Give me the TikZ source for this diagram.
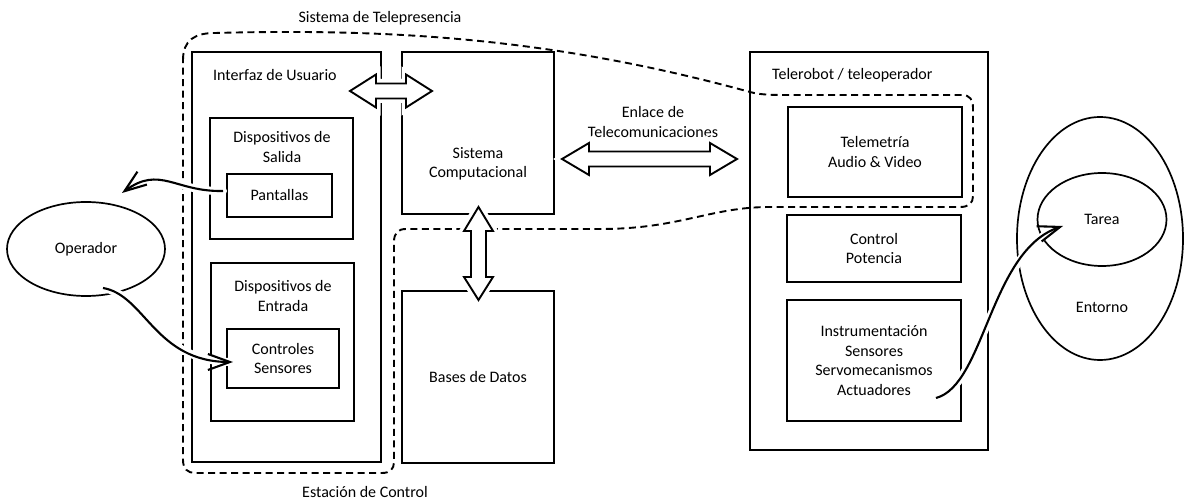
\documentclass[tikz,border=0pt]{standalone}
\usepackage{fontspec}
\setmainfont{Carlito}
\usetikzlibrary{arrows.meta,shapes.geometric}
\begin{document}
\begin{tikzpicture}[x=1pt,y=-1pt,
  font=\fontsize{16}{19.5}\selectfont,
  box/.style={draw, line width=2.8pt, inner sep=0pt, align=center},
  ell/.style={draw, ellipse, line width=1.7pt, inner sep=0pt, align=center},
  lbl/.style={inner sep=0pt, align=center},
  dashline/.style={dash pattern=on 7pt off 4.5pt, line width=1.9pt},
  blockarrow/.style={draw, fill=white, line width=1.9pt, line join=miter,
    preaction={draw=white, line width=9pt}},
  curvy/.style={line width=2.1pt, -{Straight Barb[length=22pt,width=16pt]},
    preaction={draw=white, line width=8pt, line cap=round, -}}]
\useasboundingbox (0,0) rectangle (1184,502);

% dashed outline of the telepresence system / control station
\draw[dashline] (183,60) .. controls (183,40) and (195,33) .. (215,33)
  .. controls (400,28) and (560,40) .. (750,92)
  .. controls (760,94.7) and (770,95) .. (785,95) -- (962,95)
  .. controls (970,95) and (973,100) .. (973,108) -- (973,196)
  .. controls (973,203) and (969,207) .. (960,207) -- (770,207)
  .. controls (710,207) and (680,229) .. (600,229) -- (406,229)
  .. controls (398,229) and (394,233) .. (394,242) -- (394,462)
  .. controls (394,469) and (390,473) .. (382,473) -- (195,473)
  .. controls (188,473) and (183,469) .. (183,460) -- cycle;

% boxes
\node[box, minimum width=189, minimum height=410] (ui) at (286.5,257) {};
\node[box, minimum width=152, minimum height=162] (sc) at (478,133) {};
\node[box, minimum width=152, minimum height=172] (bd) at (478,377) {Bases de Datos};
\node[box, minimum width=143, minimum height=121] (sal) at (281.5,178.5) {};
\node[box, minimum width=105, minimum height=43] (pant) at (279.5,195.5) {Pantallas};
\node[box, minimum width=143, minimum height=158] (ent) at (282.5,342) {};
\node[box, minimum width=112, minimum height=59] (ctl) at (283,358.5) {Controles\\Sensores};
\node[box, minimum width=238, minimum height=398] (tr) at (869,251) {};
\node[box, minimum width=174, minimum height=90] (tel) at (875,152) {Telemetría\\Audio \& Video};
\node[box, minimum width=174, minimum height=67] (cp) at (874,248.5) {Control\\Potencia};
\node[box, minimum width=174, minimum height=121] (ins) at (874,360.5) {Instrumentación\\Sensores\\Servomecanismos\\Actuadores};

% ellipses
\node[ell, minimum width=158, minimum height=94] (op) at (86,249) {Operador};
\node[ell, minimum width=166, minimum height=243] (env) at (1100,238.5) {};
\node[ell, minimum width=129, minimum height=93] (tar) at (1102,219.5) {Tarea};

% labels
\node[lbl] (ltp) at (380,18) {Sistema de Telepresencia};
\node[lbl, anchor=west] (lui) at (213,75) {Interfaz de Usuario};
\node[lbl] (lsc) at (478,164) {Sistema\\Computacional};
\node[lbl] (lsal) at (282,147) {Dispositivos de\\Salida};
\node[lbl] (lent) at (283,296) {Dispositivos de\\Entrada};
\node[lbl, anchor=west] (ltr) at (772,75) {Telerobot / teleoperador};
\node[lbl] (lenl) at (653,122) {Enlace de\\Telecomunicaciones};
\node[lbl] (lenv) at (1102,307) {Entorno};
\node[lbl] (lec) at (365,492) {Estación de Control};

% block double arrows
\draw[blockarrow] (350,91) -- (376,74.5) -- (376,83.5) -- (406,83.5) -- (406,74.5)
  -- (432,91) -- (406,107.5) -- (406,98.5) -- (376,98.5) -- (376,107.5) -- cycle;
\draw[blockarrow] (562,159) -- (589,143) -- (589,151.5) -- (710,151.5) -- (710,143)
  -- (737,159) -- (710,175) -- (710,166.5) -- (589,166.5) -- (589,175) -- cycle;
\draw[blockarrow] (478.5,207) -- (493,231) -- (486,231) -- (486,277) -- (493,277)
  -- (478.5,300) -- (464,277) -- (471,277) -- (471,231) -- (464,231) -- cycle;

% curved arrows
\coordinate (a1s) at (223,191);
\coordinate (a1e) at (122,193);
\coordinate (a2s) at (103,288);
\coordinate (a2e) at (233,362);
\coordinate (a3s) at (936,398);
\coordinate (a3e) at (1063,226);
\draw[curvy] (a1s) .. controls (175,192) and (160,165) .. (a1e);
\draw[curvy] (a2s) .. controls (145,295) and (155,362) .. (a2e);
\draw[curvy] (a3s) .. controls (985,385) and (990,250) .. (a3e);
\end{tikzpicture}
\end{document}
